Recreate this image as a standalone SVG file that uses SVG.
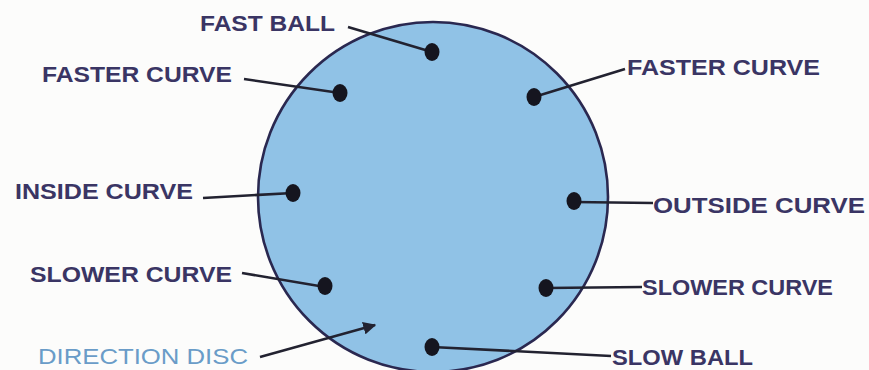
<svg xmlns="http://www.w3.org/2000/svg" width="869" height="370" viewBox="0 0 869 370">
<style>
.lbl{font-family:"Liberation Sans",Arial,sans-serif;font-weight:bold;font-size:22px;fill:#3a3564}
.lbl2{font-family:"Liberation Sans",Arial,sans-serif;font-size:22px;fill:#6a9cc8}
.ln{stroke:#222230;stroke-width:2.6;fill:none}
.dot{fill:#15151f}
</style>
<defs>
<marker id="ah" viewBox="0 0 10 10" refX="9" refY="5" markerWidth="5" markerHeight="5" orient="auto">
<path d="M0,0 L10,5 L0,10 z" fill="#222230"/>
</marker>
</defs>
<rect width="869" height="370" fill="#fcfcfb"/>
<g id="disc">
<ellipse cx="433" cy="197" rx="175" ry="175" fill="#90c2e6" stroke="#2a2850" stroke-width="2.6"/>
</g>
<g id="connectors">
<line class="ln" x1="348" y1="27" x2="432" y2="52"/>
<line class="ln" x1="244" y1="79" x2="340" y2="93"/>
<line class="ln" x1="625" y1="69" x2="534" y2="97"/>
<line class="ln" x1="203" y1="198" x2="293" y2="193"/>
<line class="ln" x1="573" y1="202" x2="653" y2="203"/>
<line class="ln" x1="242" y1="273" x2="325" y2="287"/>
<line class="ln" x1="546" y1="288" x2="642" y2="287"/>
<line class="ln" x1="432" y1="347" x2="611" y2="356"/>
<line class="ln" x1="260" y1="357" x2="375" y2="325" marker-end="url(#ah)"/>
</g>
<g id="fast-ball"><ellipse class="dot" cx="432" cy="52" rx="7.5" ry="9"/><text class="lbl" x="200" y="31" textLength="135" lengthAdjust="spacingAndGlyphs">FAST BALL</text></g>
<g id="faster-curve-left"><ellipse class="dot" cx="340" cy="93" rx="7.5" ry="9"/><text class="lbl" x="42" y="82" textLength="190" lengthAdjust="spacingAndGlyphs">FASTER CURVE</text></g>
<g id="faster-curve-right"><ellipse class="dot" cx="534" cy="97" rx="7.5" ry="9"/><text class="lbl" x="627" y="75" textLength="193" lengthAdjust="spacingAndGlyphs">FASTER CURVE</text></g>
<g id="inside-curve"><ellipse class="dot" cx="293" cy="193" rx="7.5" ry="9"/><text class="lbl" x="15" y="199" textLength="178" lengthAdjust="spacingAndGlyphs">INSIDE CURVE</text></g>
<g id="outside-curve"><ellipse class="dot" cx="574" cy="201" rx="7.5" ry="9"/><text class="lbl" x="653" y="213" textLength="212" lengthAdjust="spacingAndGlyphs">OUTSIDE CURVE</text></g>
<g id="slower-curve-left"><ellipse class="dot" cx="325" cy="286" rx="7.5" ry="9"/><text class="lbl" x="30" y="282" textLength="202" lengthAdjust="spacingAndGlyphs">SLOWER CURVE</text></g>
<g id="slower-curve-right"><ellipse class="dot" cx="546" cy="288" rx="7.5" ry="9"/><text class="lbl" x="642" y="295" textLength="191" lengthAdjust="spacingAndGlyphs">SLOWER CURVE</text></g>
<g id="slow-ball"><ellipse class="dot" cx="432" cy="347" rx="7.5" ry="9"/><text class="lbl" x="612" y="365" textLength="141" lengthAdjust="spacingAndGlyphs">SLOW BALL</text></g>
<g id="direction-disc"><text class="lbl2" x="38" y="364" textLength="210" lengthAdjust="spacingAndGlyphs">DIRECTION DISC</text></g>
</svg>
